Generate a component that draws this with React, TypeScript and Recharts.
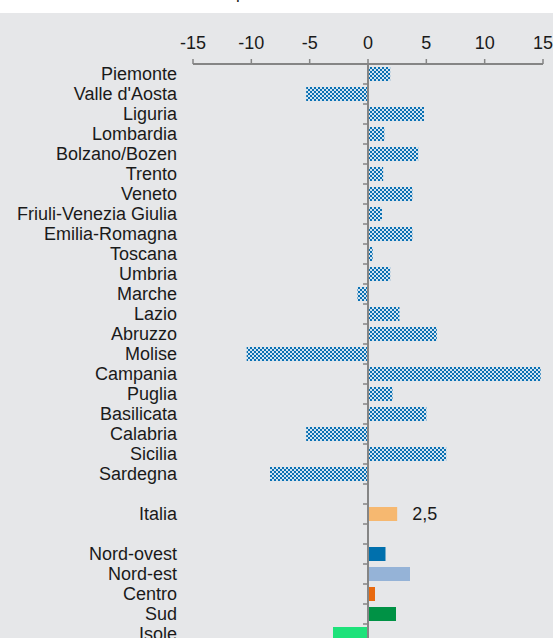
import React from 'react';
import { BarChart, Bar, XAxis, YAxis, Cell, LabelList, ReferenceLine } from 'recharts';

const regions = [
  'Piemonte', "Valle d'Aosta", 'Liguria', 'Lombardia', 'Bolzano/Bozen', 'Trento', 'Veneto',
  'Friuli-Venezia Giulia', 'Emilia-Romagna', 'Toscana', 'Umbria', 'Marche', 'Lazio', 'Abruzzo',
  'Molise', 'Campania', 'Puglia', 'Basilicata', 'Calabria', 'Sicilia', 'Sardegna',
];
const regionValues = [
  1.9, -5.3, 4.8, 1.4, 4.3, 1.3, 3.8, 1.2, 3.8, 0.4, 1.9, -0.9, 2.7, 5.9, -10.4, 14.8, 2.1, 5.0,
  -5.3, 6.7, -8.4,
];
const italiaValue = 2.5;
const macroAreas = ['Nord-ovest', 'Nord-est', 'Centro', 'Sud', 'Isole'];
const macroValues = [1.5, 3.6, 0.6, 2.4, -3.0];
const macroColors = ['#0070ad', '#95b3d7', '#e8690f', '#009245', '#1de27a'];
const italiaColor = '#f6b870';
const xTicks = [-15, -10, -5, 0, 5, 10, 15];

type Row = { name: string; value: number | null; fill: string; label?: number };

const rows: Row[] = [
  ...regions.map((name, i) => ({ name, value: regionValues[i], fill: 'url(#checker)' })),
  { name: '', value: null, fill: 'none' },
  { name: 'Italia', value: italiaValue, fill: italiaColor, label: italiaValue },
  { name: ' ', value: null, fill: 'none' },
  ...macroAreas.map((name, i) => ({ name, value: macroValues[i], fill: macroColors[i] })),
];

const FONT = '"Liberation Sans", Arial, sans-serif';
const AXIS_GREY = '#858585';
const ROW_H = 20;

// zero line plus the little ticks between the categories
const ZeroAxis = (props: any) => {
  const { x1 } = props;
  const top = Math.min(props.y1, props.y2);
  const bottom = Math.max(props.y1, props.y2);
  const step = (bottom - top) / rows.length;
  return (
    <g>
      {rows.map((_, i) => (
        <line
          key={i}
          x1={x1 - 5}
          x2={x1}
          y1={top + (i + 1) * step}
          y2={top + (i + 1) * step}
          stroke={AXIS_GREY}
          strokeWidth={1.5}
        />
      ))}
      <line x1={x1} x2={x1} y1={top} y2={bottom} stroke={AXIS_GREY} strokeWidth={2} />
    </g>
  );
};

const CategoryTick = ({ x, y, payload }: any) => (
  <text x={x} y={y} dy={6} textAnchor="end" fontSize={18} fill="#1a1a1a" fontFamily={FONT}>
    {payload.value}
  </text>
);

const ValueLabel = (props: any) => {
  const { x, y, width, height, value } = props;
  if (value == null) return null;
  return (
    <text x={x + width + 15} y={y + height / 2} dy={6} fontSize={18} fill="#1a1a1a" fontFamily={FONT}>
      {String(value).replace('.', ',')}
    </text>
  );
};

export default function App() {
  const top = 21;
  const axisH = 30;
  const bottom = 5;
  const chartH = top + axisH + rows.length * ROW_H + bottom;
  return (
    <div
      style={{
        position: 'fixed',
        left: 0,
        top: 0,
        width: 553,
        height: 638,
        overflow: 'hidden',
        background: '#ffffff',
        fontFamily: FONT,
      }}
    >
      <svg width={553} height={13} style={{ position: 'absolute', left: 0, top: 0 }}>
        <text x={236} y={-1} fontSize={17} fill="#1a1a1a" fontFamily={FONT}>
          p
        </text>
      </svg>
      <div style={{ position: 'absolute', left: 0, top: 13, width: 553, height: 660, background: '#e6e7e9' }}>
        <BarChart
          width={553}
          height={chartH}
          data={rows}
          layout="vertical"
          barSize={14}
          margin={{ top, right: 10, left: 8, bottom }}
        >
          <defs>
            <pattern id="checker" width={4} height={4} patternUnits="userSpaceOnUse">
              <rect width={4} height={4} fill="#d3e4f1" />
              <rect width={2} height={2} fill="#0a70b2" />
              <rect x={2} y={2} width={2} height={2} fill="#0a70b2" />
            </pattern>
          </defs>
          <XAxis
            type="number"
            orientation="top"
            domain={[-15, 15]}
            ticks={xTicks}
            height={axisH}
            tickSize={5}
            tickMargin={10}
            axisLine={{ stroke: AXIS_GREY, strokeWidth: 2 }}
            tickLine={{ stroke: AXIS_GREY, strokeWidth: 1.5 }}
            tick={{ fontSize: 18, fill: '#1a1a1a', fontFamily: FONT }}
          />
          <YAxis
            type="category"
            dataKey="name"
            width={185}
            interval={0}
            axisLine={false}
            tickLine={false}
            tickSize={6}
            tickMargin={10}
            tick={<CategoryTick />}
          />
          <Bar dataKey="value" isAnimationActive={false}>
            {rows.map((r, i) => (
              <Cell key={i} fill={r.fill} />
            ))}
            <LabelList dataKey="label" content={<ValueLabel />} />
          </Bar>
          <ReferenceLine x={0} shape={<ZeroAxis />} />
        </BarChart>
      </div>
    </div>
  );
}
